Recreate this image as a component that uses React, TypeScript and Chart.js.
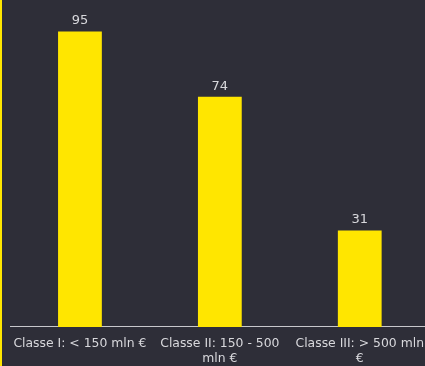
import React, { useEffect, useRef } from "react";
import { Chart, registerables } from "chart.js";

Chart.register(...registerables);

const categories: string[][] = [
  ["Classe I: < 150 mln €"],
  ["Classe II: 150 - 500", "mln €"],
  ["Classe III: > 500 mln", "€"],
];
const values: number[] = [95, 74, 31];

const BG = "#2e2e38";
const YELLOW = "#ffe600";
const TEXT = "#d8d8dc";
const FONT = "'DejaVu Sans'";

const valueLabels = {
  id: "valueLabels",
  afterDatasetsDraw(chart: any) {
    const { ctx } = chart;
    const meta = chart.getDatasetMeta(0);
    ctx.save();
    ctx.fillStyle = TEXT;
    ctx.font = "13px " + FONT;
    ctx.textAlign = "center";
    ctx.textBaseline = "bottom";
    meta.data.forEach((bar: any, i: number) => {
      ctx.fillText(String(chart.data.datasets[0].data[i]), bar.x, bar.y - 4);
    });
    ctx.restore();
  },
};

export default function App() {
  const ref = useRef<HTMLCanvasElement | null>(null);
  useEffect(() => {
    document.body.style.margin = "0";
    const chart = new Chart(ref.current as HTMLCanvasElement, {
      type: "bar",
      data: {
        labels: categories,
        datasets: [
          {
            data: values,
            backgroundColor: YELLOW,
            borderWidth: 0,
            categoryPercentage: 1,
            barPercentage: 0.313,
          },
        ],
      },
      options: {
        animation: false,
        responsive: false,
        maintainAspectRatio: false,
        layout: { padding: { left: 8, right: 0, top: 16, bottom: 0 } },
        plugins: { legend: { display: false }, tooltip: { enabled: false } },
        scales: {
          y: { display: false, min: 0, max: 100 },
          x: {
            grid: { display: false, drawTicks: false },
            border: { display: true, color: "#c8c8cc", width: 1 },
            ticks: {
              color: TEXT,
              font: { family: FONT, size: 12.4, lineHeight: 1.17 },
              padding: 10,
              maxRotation: 0,
              autoSkip: false,
            },
          },
        },
      },
      plugins: [valueLabels],
    });
    return () => chart.destroy();
  }, []);
  return (
    <div style={{ width: 425, height: 366, overflow: "hidden", background: BG, position: "relative" }}>
      <div style={{ position: "absolute", left: 0, top: 0, width: 2, height: 366, background: YELLOW, zIndex: 1 }} />
      <canvas ref={ref} width={432} height={376} style={{ position: "absolute", left: 2, top: 0, display: "block" }} />
    </div>
  );
}
